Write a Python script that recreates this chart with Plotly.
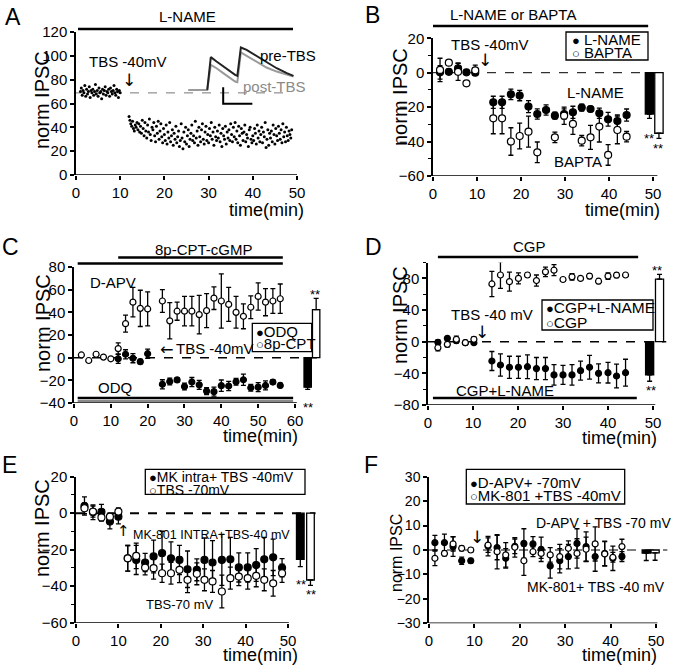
import plotly.graph_objects as go

W, H = 677, 670
FONT = "Liberation Sans, Arial, DejaVu Sans, sans-serif"
ARROW_FONT = "DejaVu Sans"

# ---------------- DATA ----------------
# Panel A: individual sweeps (norm IPSC, every 0.2 min)
a_pre_start, a_post_start, a_step = 1.0, 12.0, 0.2
a_pre_vals = [70, 73, 67, 71, 69, 75, 66, 72, 68, 70,
              74, 65, 71, 69, 72, 67, 70, 76, 68, 71,
              66, 73, 69, 70, 64, 72, 68, 71, 74, 67,
              70, 69, 72, 66, 73, 70, 68, 71, 75, 69,
              67, 72, 70, 65, 71, 69]
a_post_vals = [49, 46, 43, 41, 45, 39, 37, 42, 40, 44,
               38, 43, 36, 41, 35, 46, 39, 33, 44, 37,
               31, 42, 36, 47, 34, 29, 40, 38, 44, 33,
               28, 41, 35, 45, 30, 37, 43, 32, 27, 39,
               34, 29, 42, 26, 36, 31, 44, 28, 33, 38,
               25, 35, 30, 41, 27, 32, 37, 24, 29, 43,
               31, 22, 36, 28, 40, 26, 33, 38, 24, 30,
               35, 42, 29, 33, 27, 45, 31, 37, 25, 40,
               32, 28, 38, 43, 30, 26, 36, 41, 29, 34,
               27, 39, 33, 44, 30, 36, 25, 40, 32, 29,
               37, 31, 42, 28, 35, 24, 39, 33, 30, 41,
               26, 36, 31, 38, 29, 43, 34, 28, 40, 32,
               44, 30, 37, 27, 41, 33, 25, 39, 35, 29,
               36, 42, 28, 34, 31, 24, 38, 40, 30, 27,
               33, 29, 39, 35, 26, 42, 31, 37, 28, 34,
               40, 27, 36, 32, 44, 23, 30, 38, 25, 35,
               31, 37, 28, 42, 34, 26, 39, 33, 29, 41,
               35, 30, 38, 27, 43, 32, 36, 28, 40, 33,
               29, 37, 34, 31, 38]
a_baseline = 68.9
# inset traces (drawn in panel A coordinates)
a_pre_trace_t = [29.7, 30.5, 31.8, 33.3, 34.8, 36.0, 36.5, 37.3, 38.6, 40.1, 41.6, 43.1, 45.4, 47.7, 49.2]
a_pre_trace_y = [71.4, 98.9, 95.2, 91.0, 86.8, 84.0, 83.2, 107.0, 105.0, 101.7, 98.0, 94.4, 89.6, 85.5, 83.2]
a_post_trace_t = [25.4, 29.7, 30.5, 31.8, 33.3, 34.8, 36.0, 36.5, 37.3, 38.6, 40.1, 41.6, 43.1, 45.4, 47.7, 49.2]
a_post_trace_y = [71.4, 71.4, 92.4, 89.6, 85.5, 81.2, 78.4, 77.8, 102.8, 100.0, 96.6, 93.3, 90.2, 86.8, 84.0, 82.6]
a_scale_t = [33.3, 33.3, 39.9]
a_scale_y = [73.7, 59.7, 59.7]

# Panel B
b_lname_t = [1.6, 3.6, 5.7, 7.6, 9.6, 13.7, 15.7, 17.7, 19.7, 21.7, 23.7, 25.7, 27.7, 29.8, 31.8, 33.8, 35.8, 37.8, 39.8, 41.9, 44.0]
b_lname = [0.2, 0.5, 2.5, 0.2, 0.0, -17.2, -17.2, -12.6, -13.3, -19.7, -24.0, -21.7, -25.0, -24.0, -23.0, -20.3, -21.1, -23.6, -27.1, -28.1, -24.6]
b_lname_err = [3.9, 1.5, 3.0, 1.0, 1.5, 3.5, 3.5, 3.0, 3.0, 3.5, 3.0, 3.0, 2.0, 3.0, 3.5, 2.0, 1.5, 3.0, 4.0, 3.5, 3.5]
b_bapta_t = [1.6, 3.6, 5.7, 7.6, 9.6, 13.7, 15.7, 17.7, 19.7, 21.7, 23.7, 27.7, 29.8, 31.8, 33.8, 35.8, 37.8, 39.8, 41.9, 44.0]
b_bapta = [1.6, 5.8, 0.5, -6.2, 1.4, -26.5, -26.5, -40.0, -36.8, -34.3, -46.3, -37.6, -25.0, -29.8, -39.5, -37.6, -31.3, -47.8, -33.3, -37.2]
b_bapta_err = [6.8, 1.5, 5.0, 1.5, 3.0, 9, 9, 8, 7.5, 9, 6, 3, 5, 6, 3, 7, 9, 6, 8, 3]
b_bar_x = [49.2, 51.35]
b_bar_mean = [-24.0, -35.2]
b_bar_err = [2.5, 3.0]

# Panel C
c_odq_t = [12, 14, 16, 18, 20, 24, 26, 28, 30, 32, 34, 36, 38, 40, 42, 44, 46, 48, 50, 52, 54, 56]
c_odq = [-1, 3, -0.5, -3.5, 3.5, -23.5, -21, -19.6, -25.5, -21.5, -24, -29.5, -30, -24.7, -25, -21.3, -19.5, -26.5, -26, -24.5, -21.5, -24.5]
c_odq_err = [4, 4, 4, 2, 4, 4, 3, 2, 3, 4, 4, 3, 4, 5, 4, 3, 5, 3, 4, 4, 2, 2]
c_cpt_t = [2, 4, 6, 8, 10, 12, 14, 16, 18, 20, 24, 26, 28, 30, 32, 34, 36, 38, 40, 42, 44, 46, 48, 50, 52, 54, 56]
c_cpt = [2.4, -2.5, 3, 0.5, -1, 8, 30, 49, 43.5, 43, 50, 32.5, 41, 41, 41, 38, 41.5, 52.5, 50, 47, 40, 36.5, 44.5, 54, 49, 50, 52]
c_cpt_err = [1, 1, 1, 1, 1, 5, 7.5, 13, 16, 15, 10, 16, 8, 13, 13, 17, 15, 10, 24, 15, 14, 11, 10, 12, 12, 11, 13]
c_bar_x = [63.45, 65.75]
c_bar_mean = [-26.0, 42.4]
c_bar_err = [2.0, 10.0]

# Panel D
d_t = [2.2, 4.3, 6.3, 8.3, 10.2, 14.2, 16.1, 18.1, 20.1, 22.1, 24.1, 26.1, 28.0, 30.0, 32.0, 33.9, 35.9, 37.9, 40.0, 41.9, 43.9]
d_cgpl = [-0.8, 4.2, 1.3, -1.3, -1.3, -24.4, -29.5, -32.4, -32.4, -31.6, -34, -34, -42, -42, -42, -36.6, -32.4, -40, -39.2, -43.4, -39.2]
d_cgpl_err = [3, 2, 3, 3, 2, 12, 14, 14, 14, 15, 14, 14, 13, 12, 13, 12, 15, 12, 13, 15, 17]
d_cgp = [-7.6, -3.4, 2.9, -1.3, 2.9, 72.9, 84.2, 75.8, 79.9, 84.2, 77.2, 88.2, 90.3, 78.5, 81.9, 79.9, 82.8, 76.4, 82.8, 84.0, 84.2]
d_cgp_err = [4, 3, 4, 2, 3, 16, 17, 12, 7, 3, 7, 6, 7, 2, 4, 2, 3, 3, 4, 3, 2]
d_bar_x = [49.25, 51.45]
d_bar_mean = [-42.0, 79.0]
d_bar_err = [8.0, 6.0]

# Panel E
e_t = [2, 4, 6, 8, 10, 12.2, 14.2, 16.3, 18.3, 20.3, 22.4, 24.4, 26.3, 28.5, 30.3, 32.2, 34.4, 36.4, 38.4, 40.5, 42.5, 44.4, 46.5, 48.6]
e_mk = [3.9, 0.5, 0.8, -4.6, -1.9, -24.7, -25.6, -27, -23.7, -21.9, -24.7, -25.6, -30.7, -31, -25.6, -27, -25.6, -25.3, -29.7, -29.7, -28.4, -25.3, -24.2, -29.9]
e_mk_err = [5, 4, 4, 4, 4, 7, 8, 5, 9, 12, 9, 8, 10, 6, 12, 12, 14, 12, 8, 8, 9, 12, 10, 5]
e_70 = [2.7, 0.9, -2.3, -1.9, 0.9, -24.7, -23.4, -29.8, -30.1, -32.9, -32.9, -31, -36.5, -33.2, -36.5, -37.4, -42.9, -35.6, -34.7, -35.6, -34.3, -36.5, -38.4, -32.9]
e_70_err = [3, 3, 2, 2, 2, 7, 7, 4, 6, 5, 6, 7, 7, 6, 6, 6, 9, 6, 5, 6, 6, 6, 7, 5]
e_bar_x = [52.9, 55.3]
e_bar_mean = [-25.3, -36.6]
e_bar_err = [4.0, 3.0]

# Panel F
f_t = [1.3, 3.4, 5.3, 7.2, 9.2, 13.0, 15.0, 16.9, 18.9, 20.9, 22.9, 24.7, 26.7, 28.8, 30.7, 32.6, 34.6, 36.6, 38.7, 40.5, 42.5]
f_dapv = [3.0, 3.0, 1.4, -4.4, -4.4, 1.6, 1.0, -3.4, 1.5, 2.7, 2.5, 0.3, -6.5, -4.4, -2.7, 2.7, 1.4, -2.7, -1.4, -3.4, -2.7]
f_dapv_err = [3, 3.5, 4, 1.5, 1, 4, 5, 4, 3, 6, 3, 5, 5, 5, 5, 6, 6, 6, 5, 5, 2]
f_mk = [-3.4, -1.4, 2.5, 0.7, 0.0, 2.0, -0.7, -2.0, 1.1, -4.4, -0.7, -1.4, -2.0, -2.7, 0.7, -1.4, 0.3, 2.5, -1.6, -3.0, 1.4]
f_mk_err = [3, 1, 3, 1, 1, 3, 7, 5, 4, 6, 2, 2, 3, 5, 3, 6, 5, 7, 5, 2, 3]
f_bar_x = [47.85, 49.8]
f_bar_mean = [-1.3, -1.2]
f_bar_err = [3.0, 3.0]

# ---------------- LAYOUT GEOMETRY (pixels) ----------------
# name: (x0px, px per min, xmax, ytop px, ybottom px, ymin, ymax)
panels = {
    "A": (76, 4.42, 50, 32, 175, 0, 120),
    "B": (433, 4.4, 53, 38.3, 175.9, -60, 20),
    "C": (74, 3.683, 67.5, 267, 403, -40, 80),
    "D": (428, 4.5, 53, 262.5, 405, -80, 100),
    "E": (76, 4.24, 57, 476.7, 622.7, -60, 20),
    "F": (429, 4.54, 53, 476.7, 623.3, -30, 30),
}
axis_ids = {"A": "", "B": "2", "C": "3", "D": "4", "E": "5", "F": "6"}
xline_end = {"A": 50, "B": 51, "C": 60.5, "D": 50.5, "E": 50.2, "F": 50.3}
xticks = {"A": [0, 10, 20, 30, 40, 50], "B": [0, 10, 20, 30, 40, 50],
          "C": [0, 10, 20, 30, 40, 50, 60], "D": [0, 10, 20, 30, 40, 50],
          "E": [0, 10, 20, 30, 40, 50], "F": [0, 10, 20, 30, 40, 50]}
yticks = {"A": [0, 20, 40, 60, 80, 100, 120], "B": [-60, -40, -20, 0, 20],
          "C": [-40, -20, 0, 20, 40, 60, 80], "D": [-80, -40, 0, 40, 80],
          "E": [-60, -40, -20, 0, 20], "F": [-30, -20, -10, 0, 10, 20, 30]}
yminor = {"A": [], "B": [-50, -30, -10, 10], "C": [], "D": [-60, -20, 20, 60, 100],
          "E": [-50, -30, -10, 10], "F": []}


def fx(px):
    return px / W


def fy(py):
    return 1 - py / H


fig = go.Figure()
layout = dict(width=W, height=H, margin=dict(l=0, r=0, t=0, b=0, pad=0, autoexpand=False),
              paper_bgcolor="white", plot_bgcolor="white", showlegend=False,
              barmode="overlay", font=dict(family=FONT, color="black"))
shapes = []
annotations = []

for name, (x0, sx, xmax, ytop, ybot, ymin, ymax) in panels.items():
    k = axis_ids[name]
    layout["xaxis" + k] = dict(
        domain=[fx(x0), fx(x0 + xmax * sx)], range=[0, xmax], anchor="y" + k,
        tickmode="array", tickvals=xticks[name], ticks="outside", ticklen=4,
        tickwidth=1.5, tickcolor="black", showline=False, showgrid=False,
        zeroline=False, automargin=False,
        tickfont=dict(size=15, color="black"), fixedrange=True)
    ycfg = dict(
        domain=[fy(ybot), fy(ytop)], range=[ymin, ymax], anchor="x" + k,
        tickmode="array", tickvals=yticks[name], ticks="outside", ticklen=4,
        tickwidth=1.5, tickcolor="black", showline=True, linewidth=1.5,
        linecolor="black", showgrid=False, zeroline=False, automargin=False,
        tickfont=dict(size=15 if name != "F" else 14, color="black"), fixedrange=True)
    if yminor[name]:
        ycfg["minor"] = dict(tickmode="array", tickvals=yminor[name], ticks="outside",
                             ticklen=3, tickwidth=1.2, tickcolor="black")
    layout["yaxis" + k] = ycfg
    shapes.append(dict(type="line", xref="x" + k, yref="y" + k, x0=0, x1=xline_end[name],
                       y0=ymin, y1=ymin, line=dict(color="black", width=1.5)))


def xa(name):
    return "x" + axis_ids[name]


def ya(name):
    return "y" + axis_ids[name]


def err_series(name, t, v, e, filled, size=7):
    marker = dict(symbol="circle", size=size, color="black" if filled else "white",
                  line=dict(color="black", width=1.2))
    fig.add_trace(go.Scatter(x=t, y=v, mode="markers", marker=marker,
                             error_y=dict(type="data", array=e, visible=True, color="black",
                                          thickness=1.3, width=2.5),
                             xaxis=xa(name), yaxis=ya(name), cliponaxis=False))


def bars(name, xs, means, errs, width):
    colors = ["black", "white"]
    for i in range(len(xs)):
        up = errs[i] if means[i] > 0 else 0
        dn = errs[i] if means[i] <= 0 else 0
        fig.add_trace(go.Bar(x=[xs[i]], y=[means[i]], width=[width],
                             marker=dict(color=colors[i], line=dict(color="black", width=1.3)),
                             error_y=dict(type="data", symmetric=False, array=[up], arrayminus=[dn],
                                          color="black", thickness=1.3, width=2.5),
                             xaxis=xa(name), yaxis=ya(name)))


def zero_line(name, y, x1, dash, width=1.2, color="black"):
    shapes.append(dict(type="line", xref=xa(name), yref=ya(name), x0=0, x1=x1, y0=y, y1=y,
                       layer="below", line=dict(color=color, width=width, dash=dash)))


def drug_line(name, t0, t1, py, color="black", width=2.5):
    shapes.append(dict(type="line", xref=xa(name), yref="paper", x0=t0, x1=t1,
                       y0=fy(py), y1=fy(py), line=dict(color=color, width=width)))


def ann(px, py, text, size=15, xanchor="center", color="black", angle=0, family=FONT):
    annotations.append(dict(x=fx(px), y=fy(py), xref="paper", yref="paper", text=text,
                            showarrow=False, xanchor=xanchor, yanchor="middle",
                            textangle=angle, font=dict(size=size, color=color, family=family)))


def box(px0, py0, px1, py1):
    shapes.append(dict(type="rect", xref="paper", yref="paper", x0=fx(px0), x1=fx(px1),
                       y0=fy(py1), y1=fy(py0), line=dict(color="black", width=1.3),
                       fillcolor="white"))


FILLED = '<span style="font-size:13px">●</span>'
OPEN = '<span style="font-size:13px">○</span>'
TSIZE = 18

# ---------------- PANEL A ----------------
a_pre_t = [round(a_pre_start + a_step * i, 2) for i in range(len(a_pre_vals))]
a_post_t = [round(a_post_start + a_step * i, 2) for i in range(len(a_post_vals))]
zero_line("A", a_baseline, 47.7, "dash", width=1, color="#777")
fig.add_trace(go.Scatter(x=a_pre_t + a_post_t, y=a_pre_vals + a_post_vals, mode="markers",
                         marker=dict(size=3, color="black"), xaxis="x", yaxis="y"))
fig.add_trace(go.Scatter(x=a_post_trace_t, y=a_post_trace_y, mode="lines",
                         line=dict(color="#9a9a9a", width=2), xaxis="x", yaxis="y"))
fig.add_trace(go.Scatter(x=a_pre_trace_t, y=a_pre_trace_y, mode="lines",
                         line=dict(color="#222", width=2), xaxis="x", yaxis="y"))
fig.add_trace(go.Scatter(x=a_scale_t, y=a_scale_y, mode="lines",
                         line=dict(color="black", width=2), xaxis="x", yaxis="y"))
drug_line("A", 0.45, 49.1, 29)
ann(13, 17, "A", size=23)
ann(187, 17, "L-NAME")
ann(128, 62, "TBS -40mV")
ann(129, 80, "↓", size=17, family=ARROW_FONT)
ann(288, 56, "pre-TBS")
ann(274, 87, "post-TBS", color="#8a8a8a")
ann(42, 100, "norm IPSC", size=20, angle=-90)
ann(266, 210, "time(min)", size=TSIZE)

# ---------------- PANEL B ----------------
zero_line("B", 0, 53, "dash", width=1)
err_series("B", b_lname_t, b_lname, b_lname_err, True)
err_series("B", b_bapta_t, b_bapta, b_bapta_err, False)
bars("B", b_bar_x, b_bar_mean, b_bar_err, 1.9)
drug_line("B", 0, 48.9, 26)
ann(372, 15, "B", size=23)
ann(513, 15, "L-NAME or BAPTA")
ann(490, 45, "TBS -40mV")
ann(485, 60, "↓", size=17, family=ARROW_FONT)
ann(595, 93, "L-NAME")
ann(578, 161, "BAPTA")
ann(649, 139, "**", size=13)
ann(658, 148, "**", size=13)
box(566, 32, 648, 60)
ann(570, 40, FILLED + " L-NAME", xanchor="left")
ann(570, 52.7, OPEN + " BAPTA", xanchor="left")
ann(400, 97, "norm IPSC", size=20, angle=-90)
ann(622, 210, "time(min)", size=TSIZE)

# ---------------- PANEL C ----------------
zero_line("C", 0, 67.5, "dash", width=1.5)
err_series("C", c_cpt_t, c_cpt, c_cpt_err, False, size=6)
err_series("C", c_odq_t, c_odq, c_odq_err, True, size=6)
drug_line("C", 12, 56.7, 257.5)
drug_line("C", 1, 56.7, 263.5)
drug_line("C", 1, 59.5, 398)
drug_line("C", 1, 59.5, 401, color="#8a8a8a", width=2)
box(252.3, 323.3, 311.7, 351.7)
ann(254, 331.7, FILLED + "ODQ", xanchor="left")
ann(254, 343.3, OPEN + "8p-CPT", xanchor="left")
bars("C", c_bar_x, c_bar_mean, c_bar_err, 2.0)
ann(10, 247, "C", size=23)
ann(204.5, 250, "8p-CPT-cGMP")
ann(113, 282, "D-APV")
ann(115, 387, "ODQ")
ann(158, 350, "←", size=16, xanchor="left", family=ARROW_FONT)
ann(174, 348, "TBS -40mV", xanchor="left")
ann(315, 294, "**", size=13)
ann(308, 407, "**", size=13)
ann(43, 323, "norm IPSC", size=20, angle=-90)
ann(260, 436, "time(min)", size=TSIZE)

# ---------------- PANEL D ----------------
zero_line("D", 0, 53, "dash", width=1.5)
err_series("D", d_t, d_cgpl, d_cgpl_err, True, size=6)
err_series("D", d_t, d_cgp, d_cgp_err, False, size=6)
bars("D", d_bar_x, d_bar_mean, d_bar_err, 1.8)
drug_line("D", 2.2, 46.7, 257)
drug_line("D", 1.1, 46.4, 398)
box(542, 300, 653, 330)
ann(544, 307, FILLED + "CGP+L-NAME", xanchor="left", size=15.5)
ann(544, 322, OPEN + "CGP", xanchor="left", size=15.5)
ann(373, 247, "D", size=23)
ann(529, 247, "CGP")
ann(505, 390, "CGP+L-NAME")
ann(492, 314, "TBS -40 mV")
ann(482, 332, "↓", size=17, family=ARROW_FONT)
ann(657, 270, "**", size=13)
ann(651, 390, "**", size=13)
ann(400, 315, "norm IPSC", size=20, angle=-90)
ann(619, 438, "time(min)", size=TSIZE)

# ---------------- PANEL E ----------------
zero_line("E", 0, 56.5, "dash", width=2)
err_series("E", e_t, e_mk, e_mk_err, True)
err_series("E", e_t, e_70, e_70_err, False)
bars("E", e_bar_x, e_bar_mean, e_bar_err, 1.8)
box(145.3, 469.3, 305, 494.3)
ann(147, 477.3, FILLED + "MK intra+ TBS -40mV", xanchor="left", size=14)
ann(147, 490, OPEN + "TBS -70mV", xanchor="left", size=14)
ann(9, 465, "E", size=23)
ann(123, 531, "↑", size=15, family=ARROW_FONT)
ann(131, 535, "MK-801 INTRA+TBS-40 mV", xanchor="left", size=12.5)
ann(180, 604, "TBS-70 mV", size=13)
ann(301, 584, "**", size=13)
ann(311, 594, "**", size=13)
ann(42, 528, "norm IPSC", size=20, angle=-90)
ann(260, 655, "time(min)", size=TSIZE)

# ---------------- PANEL F ----------------
zero_line("F", 0, 52.5, "dash", width=1)
err_series("F", f_t, f_dapv, f_dapv_err, True, size=6)
err_series("F", f_t, f_mk, f_mk_err, False, size=6)
bars("F", f_bar_x, f_bar_mean, f_bar_err, 1.8)
box(466.3, 469.3, 624.7, 504)
ann(468, 482.7, FILLED + "D-APV+ -70mV", xanchor="left", size=15)
ann(468, 495, OPEN + "MK-801 +TBS -40mV", xanchor="left", size=15)
ann(371, 465, "F", size=23)
ann(603, 523, "D-APV + TBS -70 mV", size=14)
ann(596, 587, "MK-801+ TBS -40 mV", size=14)
ann(477, 537, "↓", size=17, family=ARROW_FONT)
ann(396, 553, "norm IPSC", size=16, angle=-90)
ann(619, 655, "time(min)", size=TSIZE)

layout["shapes"] = shapes
layout["annotations"] = annotations
fig.update_layout(**layout)
fig.write_html("out.html", config={"displayModeBar": False},
               post_script="document.body.style.margin='0px';document.body.style.overflow='hidden';")
